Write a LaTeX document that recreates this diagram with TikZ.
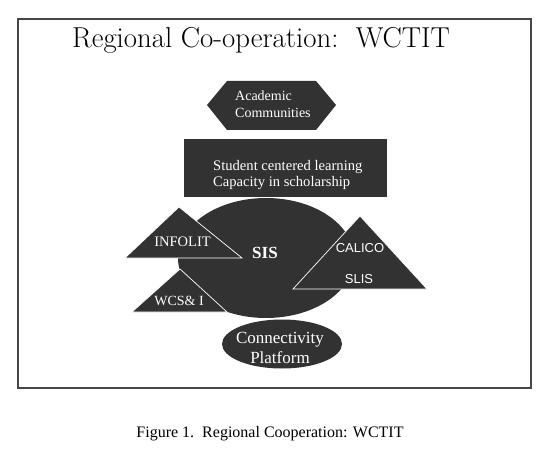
\documentclass[tikz,border=0pt]{standalone}
\usepackage{fontspec}
\usepackage{tikz}
\usetikzlibrary{positioning,calc,shapes.geometric}
\newfontfamily\tnr{Liberation Serif}
\newfontfamily\arl{Liberation Sans}
\definecolor{ink}{RGB}{50,50,50}
\definecolor{frameln}{RGB}{70,70,70}
\tikzset{
  darkfill/.style={fill=ink,draw=none},
  tri/.style={fill=ink,draw=white,line width=0.7pt,line join=miter},
  wtxt/.style={text=white,font=\tnr\fontsize{13}{16}\selectfont,align=left,inner sep=0pt},
  stxt/.style={text=white,font=\arl\fontsize{13}{15}\selectfont,inner sep=0pt},
}

\begin{document}
\begin{tikzpicture}[x=1pt,y=-1pt]
  \useasboundingbox (0,0) rectangle (554,449);
  \fill[white] (0,0) rectangle (554,449);
  \draw[frameln,line width=2pt] (18,19) rectangle (531,388);
  \node[anchor=base,inner sep=0pt,font=\fontsize{28.8}{32}\selectfont] (title) at (261,48) {Regional Co-operation:\ \ WCTIT};
  % academic communities
  \fill[darkfill] (207,105) -- (227,81) -- (316,81) -- (336,105) -- (316,130) -- (227,130) -- cycle;
  \node[wtxt,anchor=west,font=\tnr\fontsize{14}{17}\selectfont] (acad) at (235,104) {Academic\\Communities};
  % learning box
  \node[darkfill,minimum width=203pt,minimum height=58pt,inner sep=0pt] (learn) at (285.5,168) {};
  \node[wtxt,anchor=west,font=\tnr\fontsize{14.6}{16.5}\selectfont] (learntxt) at (213,175) {Student centered learning\\Capacity in scholarship};
  % sis and partners
  \node[darkfill,ellipse,minimum width=176pt,minimum height=120pt] (sis) at (266,258) {};
  \node[text=white,font=\tnr\bfseries\fontsize{17}{20}\selectfont,inner sep=0pt] (sistxt) at (265,253) {SIS};
  \draw[tri] (179,207) -- (125,258) -- (242,258) -- cycle;
  \node[wtxt,font=\tnr\fontsize{14.5}{16}\selectfont] (infolit) at (182.5,242) {INFOLIT};
  \draw[tri] (180,269) -- (132,312) -- (227,312) -- cycle;
  \node[wtxt,font=\tnr\fontsize{14}{16}\selectfont] (wcsi) at (179,301) {WCS\&\ I};
  \draw[tri] (360,216) -- (293,289) -- (427,289) -- cycle;
  \node[stxt] (calico) at (360,248) {CALICO};
  \node[stxt] (slis) at (359,279) {SLIS};
  % connectivity platform
  \node[darkfill,ellipse,minimum width=120pt,minimum height=49pt,inner sep=0pt] (conn) at (282,344) {};
  \node[text=white,font=\tnr\fontsize{17}{20}\selectfont,align=center,inner sep=0pt] (conntxt) at (280,348) {Connectivity\\Platform};
  \node[anchor=base,inner sep=0pt,font=\tnr\fontsize{16}{18}\selectfont] (caption) at (270,437) {Figure 1.\ \ Regional Cooperation: WCTIT};
\end{tikzpicture}
\end{document}
